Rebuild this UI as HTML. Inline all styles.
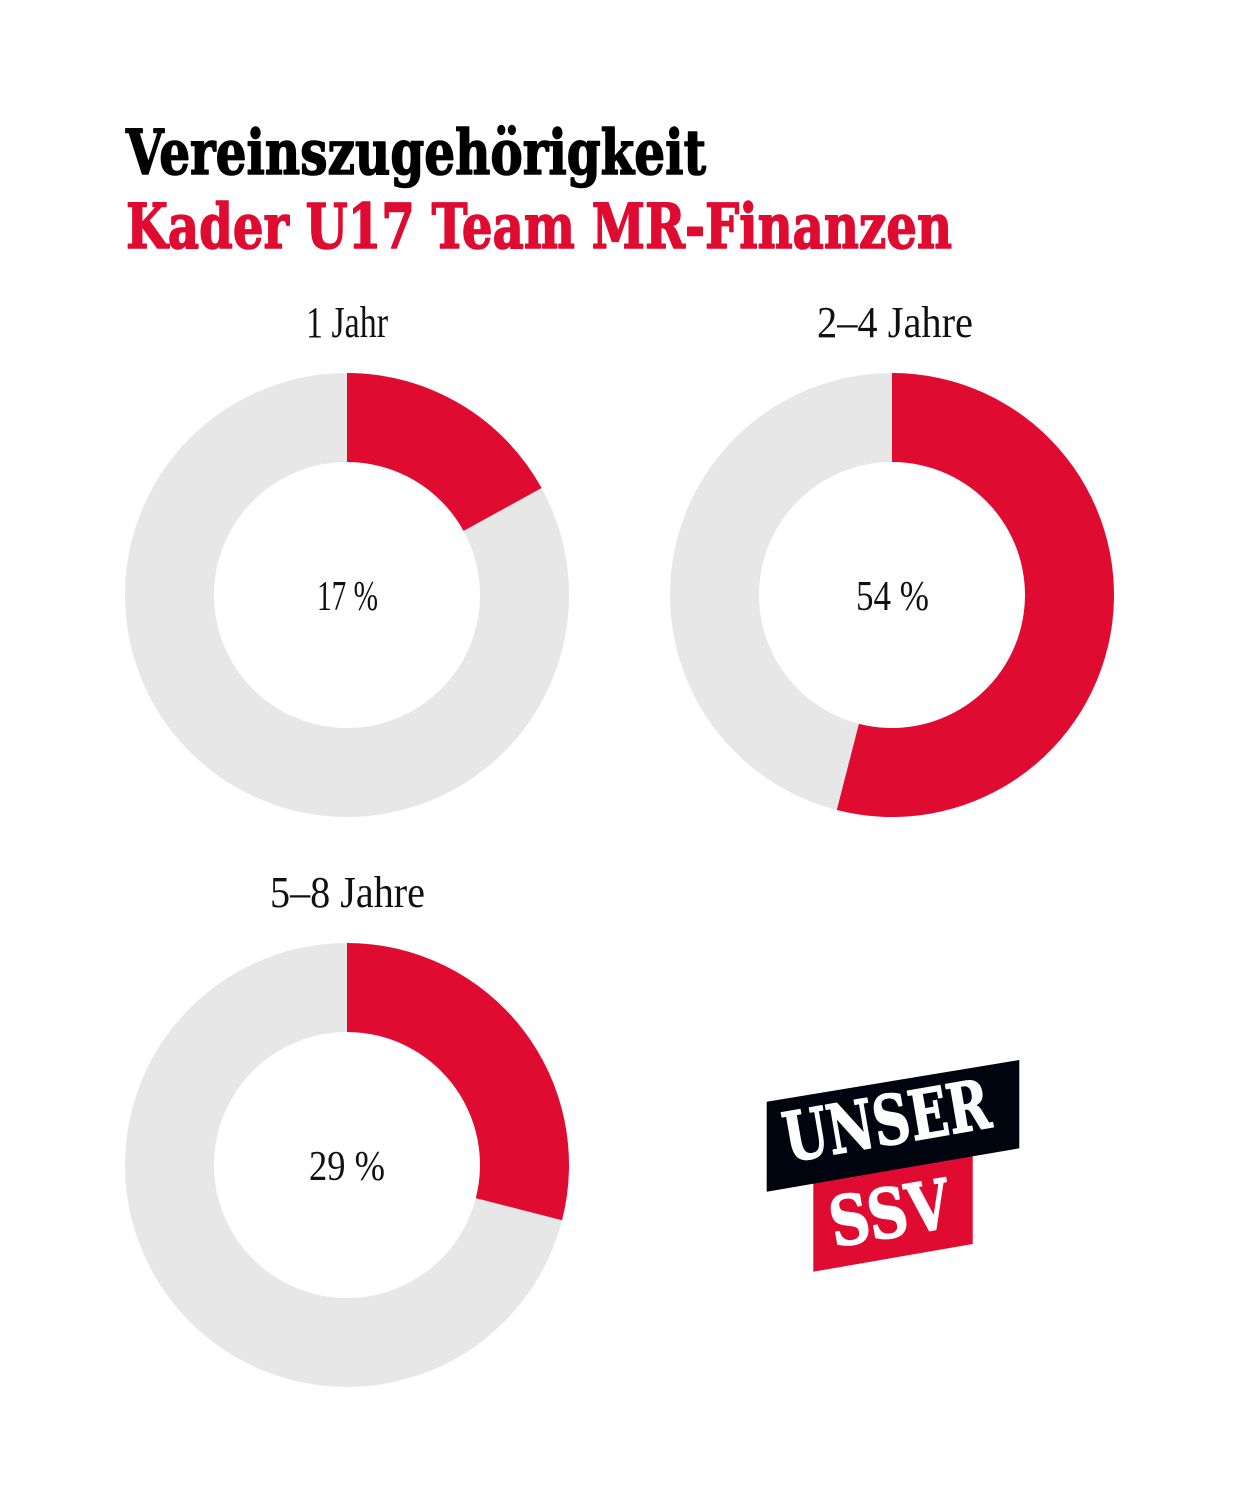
<!DOCTYPE html>
<html>
<head>
<meta charset="utf-8">
<style>
  html, body { margin:0; padding:0; background:#ffffff; }
  svg { display:block; }
</style>
</head>
<body>
<svg width="1240" height="1488" viewBox="0 0 1240 1488" xmlns="http://www.w3.org/2000/svg">
  <rect width="1240" height="1488" fill="#ffffff"/>

  <!-- Titles -->
  <text x="126" y="174" font-family="'DejaVu Serif', 'Liberation Serif', serif" font-weight="bold" font-size="62" fill="#000000" stroke="#000000" stroke-width="1.6" stroke-linejoin="round" textLength="580" lengthAdjust="spacingAndGlyphs">Vereinszugehörigkeit</text>
  <text x="126" y="248" font-family="'DejaVu Serif', 'Liberation Serif', serif" font-weight="bold" font-size="62" fill="#E00B30" stroke="#E00B30" stroke-width="1.6" stroke-linejoin="round" textLength="826" lengthAdjust="spacingAndGlyphs">Kader U17 Team MR-Finanzen</text>

  <!-- Labels -->
  <g font-family="'Liberation Serif', serif" font-size="44" fill="#111111">
    <text x="306" y="337" textLength="82" lengthAdjust="spacingAndGlyphs">1 Jahr</text>
    <text x="817" y="337" textLength="156" lengthAdjust="spacingAndGlyphs">2–4 Jahre</text>
    <text x="270" y="907" textLength="155" lengthAdjust="spacingAndGlyphs">5–8 Jahre</text>
  </g>

  <!-- Donut 1 -->
  <circle cx="347" cy="595" r="177.5" fill="none" stroke="#E7E7E7" stroke-width="89"/>
  <path d="M347,373 A222,222 0 0 1 541.54,488.04 L463.55,530.92 A133,133 0 0 0 347,462 Z" fill="#E00B30"/>

  <!-- Donut 2 -->
  <circle cx="892" cy="595" r="177.5" fill="none" stroke="#E7E7E7" stroke-width="89"/>
  <path d="M892,373 A222,222 0 1 1 836.79,810.03 L858.92,723.82 A133,133 0 1 0 892,462 Z" fill="#E00B30"/>

  <!-- Donut 3 -->
  <circle cx="347" cy="1165" r="177.5" fill="none" stroke="#E7E7E7" stroke-width="89"/>
  <path d="M347,943 A222,222 0 0 1 562.03,1220.21 L475.82,1198.08 A133,133 0 0 0 347,1032 Z" fill="#E00B30"/>

  <!-- Percentages -->
  <g font-family="'Liberation Serif', serif" font-size="42" fill="#111111">
    <text x="317" y="610" textLength="61" lengthAdjust="spacingAndGlyphs">17 %</text>
    <text x="856" y="610" textLength="73" lengthAdjust="spacingAndGlyphs">54 %</text>
    <text x="309" y="1180" textLength="76" lengthAdjust="spacingAndGlyphs">29 %</text>
  </g>

  <!-- Logo -->
  <polygon points="813.3,1150 972.7,1125 972.7,1244 813.3,1271.7" fill="#E00B30"/>
  <polygon points="766.7,1101.7 1019.3,1060 1019.3,1148.3 766.7,1191.7" fill="#00040F"/>
  <text transform="translate(788,1162) rotate(-9.75)" font-family="'DejaVu Serif', 'Liberation Serif', serif" font-weight="bold" font-size="68" fill="#ffffff" stroke="#ffffff" stroke-width="1.6" stroke-linejoin="round" textLength="208" lengthAdjust="spacingAndGlyphs">UNSER</text>
  <text transform="translate(834,1247) rotate(-9.75)" font-family="'DejaVu Serif', 'Liberation Serif', serif" font-weight="bold" font-size="68" fill="#ffffff" stroke="#ffffff" stroke-width="1.6" stroke-linejoin="round" textLength="121" lengthAdjust="spacingAndGlyphs">SSV</text>
</svg>
</body>
</html>
